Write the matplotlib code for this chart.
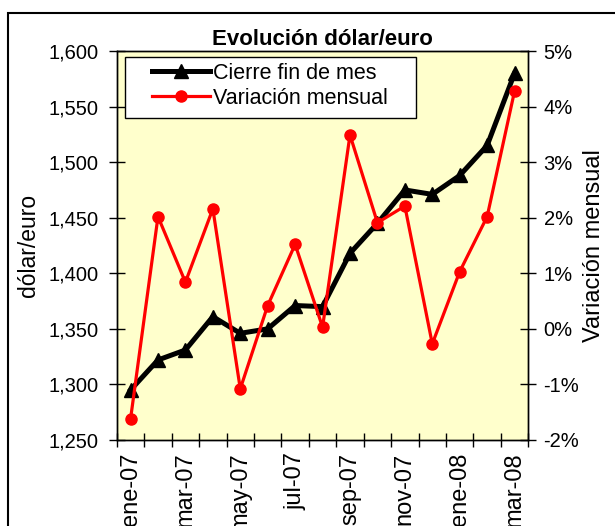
import matplotlib.pyplot as plt
from matplotlib.patches import Rectangle
from matplotlib.ticker import FuncFormatter

plt.rcParams['font.family'] = ['Liberation Sans', 'DejaVu Sans']

# datos
meses = ['ene-07', 'feb-07', 'mar-07', 'abr-07', 'may-07', 'jun-07', 'jul-07', 'ago-07',
         'sep-07', 'oct-07', 'nov-07', 'dic-07', 'ene-08', 'feb-08', 'mar-08']
cierre = [1.295, 1.322, 1.331, 1.361, 1.346, 1.350, 1.371, 1.370,
          1.418, 1.445, 1.475, 1.471, 1.488, 1.515, 1.580]
variacion = [-1.62, 2.02, 0.84, 2.16, -1.08, 0.42, 1.52, 0.03,
             3.49, 1.91, 2.21, -0.27, 1.03, 2.02, 4.28]

fig = plt.figure(figsize=(6.15, 5.26), dpi=100)
ax = fig.add_axes([0.190, 0.1635, 0.669, 0.7395])
ax.set_facecolor('#FFFFCC')

# marco exterior (solo se ven los lados izquierdo y superior)
fig.patches.append(Rectangle((8 / 615, -0.5), 2, 1.5 - 13 / 526, transform=fig.transFigure,
                             fill=False, edgecolor='black', linewidth=1.5, clip_on=False))

x = list(range(len(meses)))
l1, = ax.plot(x, cierre, color='black', linewidth=3.6, marker='^', markersize=9.5,
              label='Cierre fin de mes', zorder=3)
ax.set_ylim(1.25, 1.60)
ax.set_xlim(-0.5, len(meses) - 0.5)
ax.set_yticks([1.25, 1.30, 1.35, 1.40, 1.45, 1.50, 1.55, 1.60])
ax.yaxis.set_major_formatter(FuncFormatter(lambda v, p: f'{v:.3f}'.replace('.', ',')))
ax.set_ylabel('dólar/euro', fontsize=16.5, labelpad=6)

ax.set_xticks(x[::2])
ax.set_xticklabels(meses[::2], rotation=90, fontsize=17)
ax.set_xticks([i - 0.5 for i in range(len(meses) + 1)], minor=True)
ax.tick_params(axis='x', which='major', length=0, pad=9)
ax.tick_params(axis='x', which='minor', direction='inout', length=10, width=1)
ax.tick_params(axis='y', direction='inout', length=12, width=1, labelsize=14.5, pad=7)

ax2 = ax.twinx()
l2, = ax2.plot(x, variacion, color='#FF0000', linewidth=2.3, marker='o', markersize=8,
               label='Variación mensual', zorder=4)
ax2.set_ylim(-2, 5)
ax2.set_yticks(range(-2, 6))
ax2.yaxis.set_major_formatter(FuncFormatter(lambda v, p: f'{v:.0f}%'))
ax2.tick_params(axis='y', direction='inout', length=12, width=1, labelsize=14.5, pad=5)
ax2.set_ylabel('Variación mensual', fontsize=17, labelpad=3)

for a in (ax, ax2):
    for s in a.spines.values():
        s.set_color('black')
        s.set_linewidth(1)

# recuadro de la leyenda, mas ancho que el texto como en Excel
ax2.add_patch(Rectangle((0.0195, 0.828), 0.708, 0.1566, transform=ax2.transAxes,
                        facecolor='white', edgecolor='black', linewidth=1, zorder=4.5))
leg = ax2.legend(handles=[l1, l2], loc='upper left', bbox_to_anchor=(0.085, 0.97),
                 fontsize=15.5, frameon=False, borderpad=0, labelspacing=0.2,
                 handlelength=2.7, handletextpad=0.15, borderaxespad=0)
leg.set_zorder(6)

ax.set_title('Evolución dólar/euro', fontsize=16, fontweight='bold', pad=4)

fig.savefig('out.png', dpi=100)
